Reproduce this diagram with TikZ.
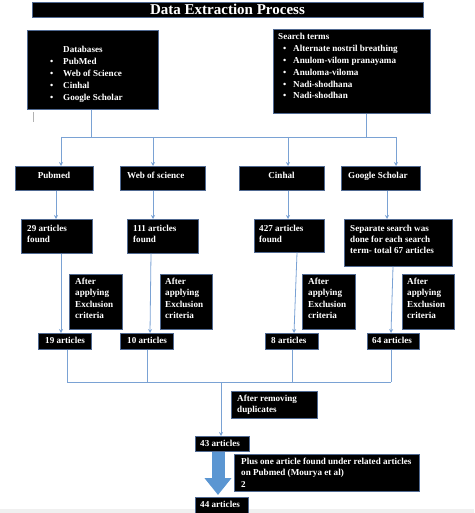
\documentclass[tikz,border=0pt]{standalone}
\usepackage{fontspec}
\setmainfont{Liberation Serif}
\usetikzlibrary{arrows.meta}
\definecolor{ln}{RGB}{122,162,212}
\definecolor{edge}{RGB}{80,105,145}
\definecolor{bigarrow}{RGB}{91,150,210}
\tikzset{
  bx/.style={draw=edge, line width=0.6pt, fill=black, inner sep=0pt, anchor=north west},
  txt/.style={text=white, font=\bfseries\fontsize{9.1}{11.4}\selectfont, inner sep=0pt, anchor=base west, align=left},
  lst/.style={txt, font=\bfseries\fontsize{9.1}{11.8}\selectfont},
  conn/.style={draw=ln, line width=0.8pt},
  arr/.style={conn, -{Stealth[length=4pt,width=4pt]}},
}
\newcommand\bxnode[5]{\node[bx, minimum width={(#4-#2)*1pt}, minimum height={(#5-#3)*1pt}] (#1) at (#2,#3) {};}
\newcommand\bul{\makebox[13pt][l]{\textbullet}}
\newcommand\bulb{\hspace*{5pt}\makebox[10pt][l]{\textbullet}}
\begin{document}
\begin{tikzpicture}[x=1pt,y=-1pt]
\useasboundingbox (0,0) rectangle (474,513);
\fill[gray!12] (0,509) rectangle (474,513);
% title
\node[bx, anchor=center, minimum width=391pt, minimum height=15pt, text=white, font=\bfseries\fontsize{15}{15}\selectfont] (title) at (227.5,9.5) {Data Extraction Process};
% boxes
\bxnode{db}{27}{30}{158}{109}
\bxnode{st}{273}{29}{430}{113}
\bxnode{pm}{15}{166}{93}{190}
\bxnode{ws}{120}{166}{205}{190}
\bxnode{ci}{239}{166}{324}{190}
\bxnode{gs}{341}{166}{420}{190}
\bxnode{a29}{21}{219}{92}{253}
\bxnode{a111}{127}{219}{198}{253}
\bxnode{a427}{254}{219}{324}{252}
\bxnode{sep}{344}{219}{452}{266}
\bxnode{ex1}{69}{274}{122}{329}
\bxnode{ex2}{160}{274}{212}{329}
\bxnode{ex3}{302}{274}{355}{329}
\bxnode{ex4}{402}{274}{454}{329}
\bxnode{r19}{38}{333}{91}{349}
\bxnode{r10}{120}{333}{173}{349}
\bxnode{r8}{265}{333}{318}{349}
\bxnode{r64}{367}{333}{419}{349}
\bxnode{dup}{231}{391}{317}{418}
\bxnode{a43}{195}{436}{249}{451}
\bxnode{plus}{234}{454}{419}{491}
\bxnode{a44}{195}{497}{248}{515}
% texts (anchor = baseline of the last line)
\node[lst] (db-t) at (50,100.2) {\hspace*{13pt}Databases\\\bul PubMed\\\bul Web of Science\\\bul Cinhal\\\bul Google Scholar};
\node[lst] (st-t) at (278,99) {Search terms\\\bulb Alternate nostril breathing\\\bulb Anulom-vilom pranayama\\\bulb Anuloma-viloma\\\bulb Nadi-shodhana\\\bulb Nadi-shodhan};
\node[txt, anchor=base] (pm-t) at (54,178) {Pubmed};
\node[txt] (ws-t) at (127,178) {Web of science};
\node[txt, anchor=base] (ci-t) at (281.5,178) {Cinhal};
\node[txt] (gs-t) at (348,178) {Google Scholar};
\node[txt] (a29-t) at (27,242.4) {29 articles\\found};
\node[txt] (a111-t) at (133,242.4) {111 articles\\found};
\node[txt] (a427-t) at (259,242.4) {427 articles\\found};
\node[txt] (sep-t) at (350,253.8) {Separate search was\\done for each search\\term- total 67 articles};
\node[txt] (ex1-t) at (75,318.7) {After\\applying\\Exclusion\\criteria};
\node[txt] (ex2-t) at (165,318.7) {After\\applying\\Exclusion\\criteria};
\node[txt] (ex3-t) at (308,318.7) {After\\applying\\Exclusion\\criteria};
\node[txt] (ex4-t) at (407,318.7) {After\\applying\\Exclusion\\criteria};
\node[txt] (r19-t) at (45,343) {19 articles};
\node[txt] (r10-t) at (127,343) {10 articles};
\node[txt] (r8-t) at (271,343) {8 articles};
\node[txt] (r64-t) at (372,343) {64 articles};
\node[txt] (dup-t) at (237,412.4) {After removing\\duplicates};
\node[txt] (a43-t) at (200,446) {43 articles};
\node[txt] (plus-t) at (241,487.3) {Plus one article found under related articles\\on Pubmed (Mourya et al)\\2};
\node[txt] (a44-t) at (200,507) {44 articles};
% cursor mark
\draw[gray!60, line width=0.8pt] (33,112) -- (33,122);
% junction coordinates
\coordinate (jdb) at (91,137);
\coordinate (jst) at (366,137);
\coordinate (h1) at (61,137);
\coordinate (h2) at (153,137);
\coordinate (h3) at (288,137);
\coordinate (h4) at (396,137);
\coordinate (k1) at (56,0);
\coordinate (k2) at (153,0);
\coordinate (k3) at (288,0);
\coordinate (k4) at (387,0);
\coordinate (t1) at (61,0);
\coordinate (t2) at (151,0);
\coordinate (t3) at (297,0);
\coordinate (t4) at (393,0);
\coordinate (b1) at (61,0);
\coordinate (b2) at (150,0);
\coordinate (b3) at (294,0);
\coordinate (b4) at (391,0);
\coordinate (n1) at (67,382);
\coordinate (n2) at (147,382);
\coordinate (n3) at (292,382);
\coordinate (n4) at (391,382);
\coordinate (jm) at (221,382);
\coordinate (ba) at (218,0);
% connectors
\draw[conn] (db.south -| jdb) -- (jdb);
\draw[conn] (st.south -| jst) -- (jst);
\draw[conn] (h1) -- (h4);
\draw[arr] (h1) -- (pm.north -| h1);
\draw[arr] (h2) -- (ws.north -| h2);
\draw[arr] (h3) -- (ci.north -| h3);
\draw[arr] (h4) -- (gs.north -| h4);
\draw[arr] (pm.south -| k1) -- (a29.north -| k1);
\draw[arr] (ws.south -| k2) -- (a111.north -| k2);
\draw[arr] (ci.south -| k3) -- (a427.north -| k3);
\draw[arr] (gs.south -| k4) -- (sep.north -| k4);
\draw[arr] (a29.south -| t1) -- (r19.north -| b1);
\draw[arr] (a111.south -| t2) -- (r10.north -| b2);
\draw[arr] (a427.south -| t3) -- (r8.north -| b3);
\draw[arr] (sep.south -| t4) -- (r64.north -| b4);
\draw[conn] (r19.south -| n1) -- (n1);
\draw[conn] (r10.south -| n2) -- (n2);
\draw[conn] (r8.south -| n3) -- (n3);
\draw[conn] (r64.south -| n4) -- (n4);
\draw[conn] (n1) -- (n4);
\draw[arr] (jm) -- (a43.north -| jm);
\draw[bigarrow, line width=13pt, -{Triangle[length=17pt,width=26pt]}, shorten >=2pt] (a43.south -| ba) -- (a44.north -| ba);
\end{tikzpicture}
\end{document}
